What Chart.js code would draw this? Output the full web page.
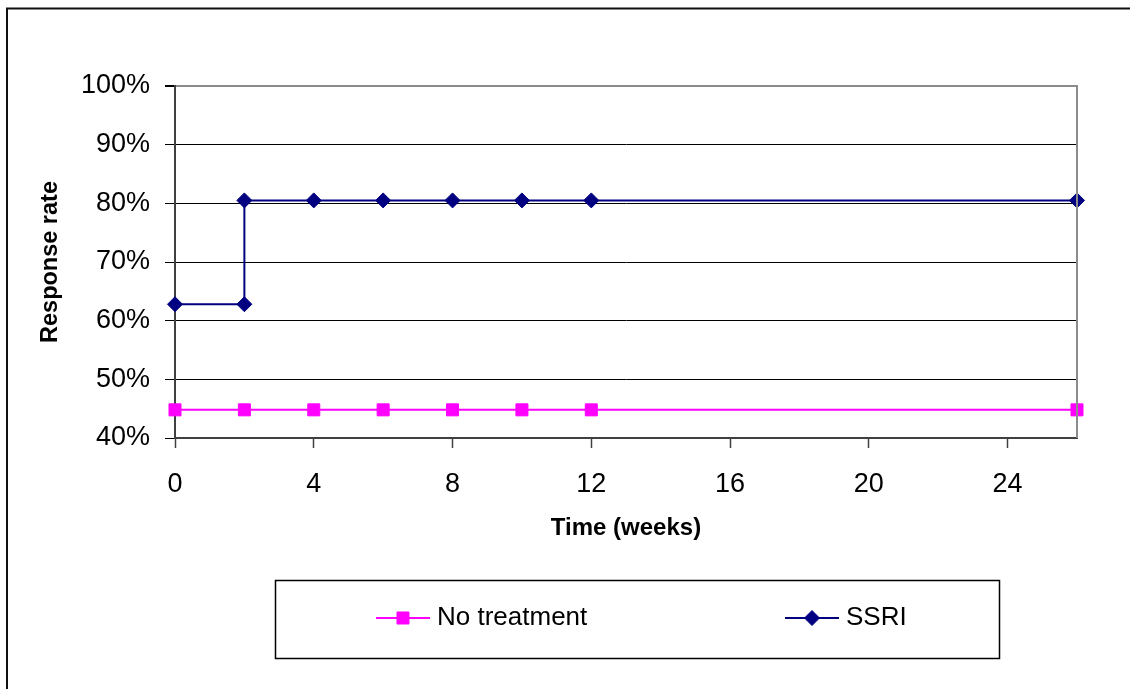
<!DOCTYPE html>
<html>
<head>
<meta charset="utf-8">
<script src="https://cdn.jsdelivr.net/npm/chart.js@4"></script>
<style>
  body { margin: 0; background: #fff; }
  #wrap { width: 1130px; height: 689px; }
</style>
</head>
<body>
<div id="wrap"><canvas id="Chart" width="1130" height="689"></canvas></div>
<script>
// data
let noTreatWeeks = [0, 2, 4, 6, 8, 10, 12, 26];
let noTreatRate = [44.8, 44.8, 44.8, 44.8, 44.8, 44.8, 44.8, 44.8];
let ssriWeeks = [0, 2, 2, 4, 6, 8, 10, 12, 26];
let ssriRate = [62.8, 62.8, 80.5, 80.5, 80.5, 80.5, 80.5, 80.5, 80.5];
let xTicks = [0, 4, 8, 12, 16, 20, 24];

let FONT = "'Liberation Sans', Arial, sans-serif";

function toPoints(xs, ys) {
    return xs.map((x, i) => ({ x: x, y: ys[i] }));
}

// outer frame, right plot border and the boxed legend
let framePlugin = {
    id: 'frame',
    afterDraw(chart) {
        let ctx = chart.ctx;
        let a = chart.chartArea;
        ctx.save();

        ctx.strokeStyle = '#111';
        ctx.lineWidth = 2;
        ctx.beginPath();
        ctx.moveTo(7, 689);
        ctx.lineTo(7, 8.5);
        ctx.lineTo(1130, 8.5);
        ctx.stroke();

        ctx.strokeStyle = '#8c8c8c';
        ctx.lineWidth = 2;
        ctx.beginPath();
        ctx.moveTo(a.right, a.top - 1);
        ctx.lineTo(a.right, a.bottom);
        ctx.stroke();

        // legend
        ctx.strokeStyle = '#000';
        ctx.lineWidth = 1.5;
        ctx.strokeRect(275.5, 580.5, 724, 78);

        let centers = [403, 812];
        let ly = 618;
        chart.data.datasets.forEach((ds, i) => {
            let cx = centers[i];
            ctx.strokeStyle = ds.borderColor;
            ctx.lineWidth = ds.borderWidth;
            ctx.beginPath();
            ctx.moveTo(cx - 27, ly);
            ctx.lineTo(cx + 27, ly);
            ctx.stroke();
            ctx.fillStyle = ds.pointBackgroundColor;
            ctx.strokeStyle = ds.pointBorderColor;
            ctx.lineWidth = 1;
            Chart.helpers.drawPoint(ctx, {
                pointStyle: ds.pointStyle,
                radius: ds.pointRadius,
                borderWidth: 1,
                rotation: 0,
            }, cx, ly);
            ctx.fillStyle = '#000';
            ctx.font = '26px ' + FONT;
            ctx.textAlign = 'left';
            ctx.textBaseline = 'middle';
            ctx.fillText(ds.label, cx + 34, ly);
        });
        ctx.restore();
    },
};

let chartdtl = {
    type: 'line',
    data: {
        datasets: [{
            label: 'No treatment',
            data: toPoints(noTreatWeeks, noTreatRate),
            borderColor: '#ff00ff',
            borderWidth: 2,
            pointStyle: 'rect',
            pointRadius: 8.5,
            pointBackgroundColor: '#ff00ff',
            pointBorderColor: '#ff00ff',
            pointBorderWidth: 1,
            clip: false,
        }, {
            label: 'SSRI',
            data: toPoints(ssriWeeks, ssriRate),
            borderColor: '#000080',
            borderWidth: 2,
            pointStyle: 'rectRot',
            pointRadius: 7.5,
            pointBackgroundColor: '#000080',
            pointBorderColor: '#000080',
            pointBorderWidth: 1,
            clip: false,
        }],
    },
    options: {
        responsive: false,
        animation: false,
        devicePixelRatio: 1,
        layout: {
            padding: { left: 36, top: 86, right: 53, bottom: 146 },
        },
        plugins: {
            legend: { display: false },
            tooltip: { enabled: false },
        },
        scales: {
            x: {
                type: 'linear',
                min: 0,
                max: 26,
                afterBuildTicks(scale) {
                    scale.ticks = xTicks.map(v => ({ value: v }));
                },
                afterFit(scale) {
                    scale.height = 105;
                },
                ticks: {
                    color: '#000',
                    font: { family: FONT, size: 27 },
                    padding: 20,
                    maxRotation: 0,
                    autoSkip: false,
                },
                grid: {
                    drawOnChartArea: false,
                    tickLength: 10,
                    tickColor: '#404040',
                    tickWidth: 1.5,
                },
                border: { color: '#404040', width: 2 },
                title: {
                    display: true,
                    text: 'Time (weeks)',
                    color: '#000',
                    font: { family: FONT, size: 24, weight: 'bold' },
                    padding: 0,
                },
            },
            y: {
                min: 40,
                max: 100,
                afterFit(scale) {
                    scale.width = 139;
                },
                ticks: {
                    stepSize: 10,
                    color: '#000',
                    font: { family: FONT, size: 27 },
                    padding: 15,
                    callback: v => v + '%',
                },
                grid: {
                    tickLength: 10,
                    tickColor: '#000',
                    color: ctx => ctx.tick && ctx.tick.value === 100 ? '#8c8c8c' : (ctx.tick && ctx.tick.value === 40 ? '#404040' : '#000'),
                    lineWidth: ctx => ctx.tick && ctx.tick.value === 100 ? 2 : 1,
                },
                border: { color: '#404040', width: 2 },
                title: {
                    display: true,
                    text: 'Response rate',
                    color: '#000',
                    font: { family: FONT, size: 23.5, weight: 'bold' },
                    padding: 0,
                },
            },
        },
    },
    plugins: [framePlugin],
};

let graph = document.getElementById('Chart');
let presentdata = new Chart(graph, chartdtl);
</script>
</body>
</html>
